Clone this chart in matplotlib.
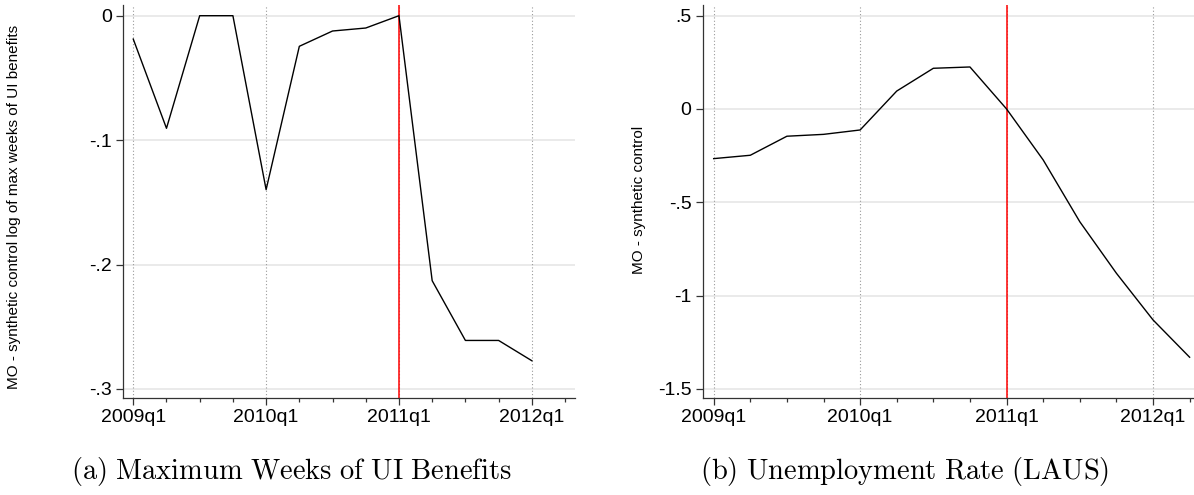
import matplotlib
matplotlib.use("Agg")
import matplotlib.pyplot as plt
from matplotlib.ticker import FixedLocator

plt.rcParams["font.family"] = ["Liberation Sans", "DejaVu Sans"]
plt.rcParams["mathtext.fontset"] = "cm"

# quarters since 2009q1
quarters = list(range(14))
year_ticks = [0, 4, 8, 12]
year_labels = ["2009q1", "2010q1", "2011q1", "2012q1"]
treat_q = 8

# MO minus synthetic control, log of max weeks of UI benefits (2009q1-2012q1)
weeks_gap = [-0.0188, -0.0905, 0.0, 0.0, -0.1398, -0.0246, -0.0123,
             -0.0099, 0.0, -0.213, -0.261, -0.261, -0.2773]
weeks_yticks = [0, -0.1, -0.2, -0.3]
weeks_ylabels = ["0", "-.1", "-.2", "-.3"]

# MO minus synthetic control, unemployment rate (LAUS, 2009q1-2012q2)
urate_gap = [-0.266, -0.248, -0.146, -0.136, -0.1125, 0.096, 0.218,
             0.225, 0.0, -0.273, -0.604, -0.880, -1.130, -1.330]
urate_yticks = [0.5, 0, -0.5, -1, -1.5]
urate_ylabels = [".5", "0", "-.5", "-1", "-1.5"]

W, H = 1194, 495
fig = plt.figure(figsize=(W / 100, H / 100), dpi=100)


def px_axes(x0, x1, y_top, y_bot):
    return fig.add_axes([x0 / W, 1 - y_bot / H, (x1 - x0) / W, (y_bot - y_top) / H])


def style_panel(ax, yticks, ylabels, ylim):
    for y in yticks:
        ax.axhline(y, color="#e6e6e6", lw=1.2, zorder=0)
    for x in year_ticks:
        ax.axvline(x, color="#9a9a9a", lw=0.8, ls=(0, (1, 2)), zorder=1)
    ax.axvline(treat_q, color="red", lw=1.1, zorder=2)
    ax.set_xlim(-0.3, 13.3)
    ax.set_ylim(*ylim)
    ax.set_yticks(yticks)
    ax.set_yticklabels(ylabels)
    ax.set_xticks(year_ticks)
    ax.set_xticklabels(year_labels)
    ax.xaxis.set_minor_locator(FixedLocator([q for q in quarters if q not in year_ticks]))
    ax.tick_params(axis="both", which="major", labelsize=14, length=5, width=0.9, pad=3, color="#333333")
    ax.tick_params(axis="x", which="minor", length=3, width=0.9, color="#333333")
    ax.spines["top"].set_visible(False)
    ax.spines["right"].set_visible(False)
    for s in ("left", "bottom"):
        ax.spines[s].set_color("#333333")
        ax.spines[s].set_linewidth(0.9)


# left: max weeks of UI benefits
ax1 = px_axes(123.3, 575, 5, 398.3)
ax1.plot(quarters[:len(weeks_gap)], weeks_gap, color="black", lw=1.0, zorder=3)
style_panel(ax1, weeks_yticks, weeks_ylabels, (-0.3075, 0.0086))
fig.text(14 / W, 1 - 207 / H, "MO - synthetic control log of max weeks of UI benefits",
         rotation=90, ha="center", va="center", fontsize=11)

# right: unemployment rate, axes runs past the figure edge
ax2 = px_axes(702.7, 1200.6, 5, 398.3)
ax2.plot(quarters, urate_gap, color="black", lw=1.0, zorder=3)
style_panel(ax2, urate_yticks, urate_ylabels, (-1.55, 0.557))
fig.text(639 / W, 1 - 200 / H, "MO - synthetic control",
         rotation=90, ha="center", va="center", fontsize=11)

fig.text(291 / W, 1 - 471 / H, r"$\mathrm{(a)\ Maximum\ Weeks\ of\ UI\ Benefits}$",
         ha="center", va="center", fontsize=20.5)
fig.text(905 / W, 1 - 471 / H, r"$\mathrm{(b)\ Unemployment\ Rate\ (LAUS)}$",
         ha="center", va="center", fontsize=20.5)

fig.savefig("out.png", dpi=100)
